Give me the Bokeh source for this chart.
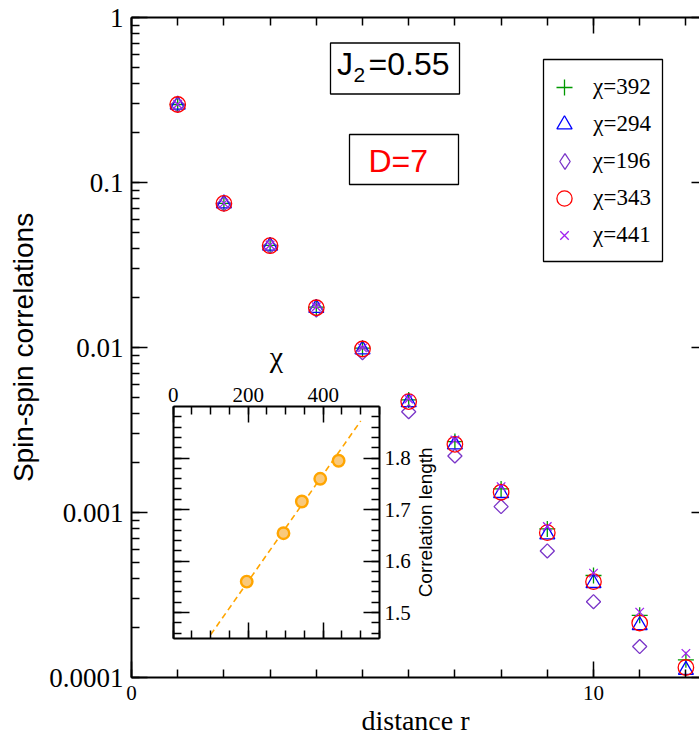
import math
from bokeh.plotting import figure
from bokeh.models import (Range1d, LinearScale, LinearAxis, LogAxis, LogTicker,
                          SingleIntervalTicker, CustomJSTickFormatter, Legend,
                          LegendItem, BoxAnnotation, Label)
from bokeh.embed import file_html
from bokeh.resources import INLINE

# ---------------- data ----------------
distance = [1, 2, 3, 4, 5, 6, 7, 8, 9, 10, 11, 12]
corr_chi392 = [0.297, 0.0748, 0.0416, 0.01755, 0.00990, 0.00481, 0.00269, 0.00139, 0.000795, 0.000415, 0.000238, 0.000128]
corr_chi294 = [0.296, 0.0745, 0.0413, 0.01735, 0.00972, 0.00466, 0.00258, 0.00131, 0.000735, 0.000373, 0.000207, 0.000111]
corr_chi196 = [0.295, 0.0740, 0.0410, 0.01688, 0.00930, 0.00408, 0.00220, 0.001086, 0.000585, 0.000288, 0.000154, 0.000085]
corr_chi343 = [0.297, 0.0747, 0.0414, 0.01742, 0.00979, 0.00470, 0.00259, 0.001327, 0.000755, 0.000381, 0.000214, 0.000115]
corr_chi441 = [0.298, 0.0750, 0.0418, 0.01765, 0.00995, 0.00487, 0.00275, 0.001435, 0.000822, 0.000429, 0.000249, 0.000140]
series_labels = ["χ=392", "χ=294", "χ=196", "χ=343", "χ=441"]

inset_chi = [196, 294, 343, 392, 441]
inset_corr_length = [1.560, 1.654, 1.7155, 1.7596, 1.7946]
fit_chi = [100, 500]
fit_corr_length = [1.457, 1.872]

# ---------------- layout constants ----------------
FIG_H = 738
FL, FT, FW, FH = 131, 17, 568, 660
FB = FT + FH
PX_PER_R = 46.2
X_END = FW / PX_PER_R
BASE_SHIFT = 0.35   # measured correction for Label "alphabetic" anchoring


def sx(px):
    return px - FL


def sy(py):
    return FB - py


p = figure(frame_width=FW, frame_height=FH,
           min_border_left=FL, min_border_top=FT,
           min_border_bottom=FIG_H - FB, min_border_right=0,
           x_range=Range1d(0, X_END), y_range=Range1d(1e-4, 1),
           y_axis_type="log", output_backend="svg", toolbar_location=None,
           outline_line_color=None, background_fill_color="white",
           border_fill_color="white")
p.grid.visible = False

SERIF = "Liberation Serif"
SANS = "Liberation Sans"


def empty_fmt():
    return CustomJSTickFormatter(code="return ''")


def style_ticks(ax, major=16, minor=8):
    ax.major_tick_in = major
    ax.major_tick_out = 0
    ax.minor_tick_in = minor
    ax.minor_tick_out = 0
    ax.axis_line_width = 2
    ax.major_tick_line_width = 1.5
    ax.minor_tick_line_width = 1.5
    ax.axis_line_color = "black"
    ax.major_tick_line_color = "black"
    ax.minor_tick_line_color = "black"


# bottom axis
xa = p.below[0]
xa.ticker = SingleIntervalTicker(interval=10, num_minor_ticks=10)
style_ticks(xa)
xa.major_label_text_font = SERIF
xa.major_label_text_font_size = "21px"
xa.major_label_text_color = "black"
xa.major_label_standoff = 8
xa.axis_label = "distance r"
xa.axis_label_text_font = SERIF
xa.axis_label_text_font_size = "28px"
xa.axis_label_text_font_style = "normal"
xa.axis_label_text_color = "black"
xa.axis_label_standoff = 2

# left axis
ya = p.left[0]
ya.ticker = LogTicker(num_minor_ticks=10)
ya.formatter = CustomJSTickFormatter(code="return String(parseFloat(tick.toPrecision(4)))")
style_ticks(ya)
ya.major_label_text_font = SERIF
ya.major_label_text_font_size = "27px"
ya.major_label_text_color = "black"
ya.major_label_standoff = 8
ya.axis_label = "Spin-spin correlations"
ya.axis_label_text_font = SANS
ya.axis_label_text_font_size = "28px"
ya.axis_label_text_font_style = "normal"
ya.axis_label_text_color = "black"
ya.axis_label_standoff = 7

# top axis (ticks only)
ta = LinearAxis(ticker=SingleIntervalTicker(interval=10, num_minor_ticks=10),
                formatter=empty_fmt(), major_label_text_font_size="1px",
                major_label_standoff=0)
style_ticks(ta)
p.add_layout(ta, "above")

# right axis (only the inner part of the major ticks is inside the picture)
ra = LogAxis(ticker=LogTicker(num_minor_ticks=10), formatter=empty_fmt(),
             major_label_text_font_size="1px", major_label_standoff=0)
style_ticks(ra, major=8, minor=0)
ra.axis_line_color = None
p.add_layout(ra, "right")

# ---------------- main series ----------------
styles = [
    dict(marker="cross", size=16, color="#009900", angle=0.0, legend_marker="cross", legend_size=16),
    dict(marker="triangle", size=15, color="#0000ff", angle=0.0, legend_marker="triangle", legend_size=15),
    dict(marker="square", size=10, color="#7a35c8", angle=math.pi / 4, legend_marker="diamond", legend_size=15.5),
    dict(marker="circle", size=15.5, color="#ff0000", angle=0.0, legend_marker="circle", legend_size=15),
    dict(marker="x", size=12, color="#a020f0", angle=0.0, legend_marker="x", legend_size=12),
]
series = [corr_chi392, corr_chi294, corr_chi196, corr_chi343, corr_chi441]

renderers = []
for vals, st in zip(series, styles):
    r = p.scatter(distance, vals, marker=st["marker"], size=st["size"],
                  angle=st["angle"], line_color=st["color"], fill_color=None,
                  line_width=1.3)
    renderers.append(r)

# legend symbols: hidden copies of the series, shown only in the legend
legend_renderers = []
for vals, st in zip(series, styles):
    lr = p.scatter(distance, vals, marker=st["legend_marker"], size=st["legend_size"],
                   line_color=st["color"], fill_color=None, line_width=1.3,
                   visible=False)
    legend_renderers.append(lr)

LEG_CX = 564
LEG_TEXT_X = 592.7
LEG_Y0 = 86.5
LEG_DY = 37
ITEM_H = 40
for i, (r, lab, st) in enumerate(zip(legend_renderers, series_labels, styles)):
    gw = st["legend_size"] / 0.4
    cy = LEG_Y0 + LEG_DY * i
    leg = Legend(items=[LegendItem(label=lab, renderers=[r], index=0)],
                 location=(sx(LEG_CX - gw / 2), sy(cy + ITEM_H / 2)),
                 glyph_width=int(round(gw)), glyph_height=ITEM_H, label_height=ITEM_H,
                 padding=0, margin=0, spacing=0,
                 label_standoff=int(round(LEG_TEXT_X - LEG_CX - gw / 2)),
                 border_line_color=None, background_fill_alpha=0,
                 inactive_fill_alpha=0,
                 label_text_font=SERIF, label_text_font_size="23px",
                 label_text_color="black")
    p.add_layout(leg)


def screen_box(left, right, top, bottom):
    return BoxAnnotation(left=sx(left), right=sx(right), top=sy(top), bottom=sy(bottom),
                         left_units="screen", right_units="screen",
                         top_units="screen", bottom_units="screen",
                         fill_color=None, fill_alpha=0, line_color="black",
                         line_alpha=1.0, line_width=1.3)


p.add_layout(screen_box(543, 662, 59, 261))      # legend frame
p.add_layout(screen_box(330, 459, 42.5, 93.5))   # J2 box
p.add_layout(screen_box(349, 458, 134, 184))     # D box


def text_label(x, baseline, text, font, fs, color="black", align="left"):
    return Label(x=sx(x), y=sy(baseline - BASE_SHIFT * fs), x_units="screen", y_units="screen",
                 text=text, text_font=font, text_font_size=f"{fs}px",
                 text_align=align, text_baseline="alphabetic", text_color=color)


p.add_layout(text_label(336.5, 74.5, "J", SANS, 32))
p.add_layout(text_label(353, 81.5, "2", SANS, 21))
p.add_layout(text_label(368, 74.5, "=0.55", SANS, 32))
p.add_layout(text_label(368, 171.5, "D=7", SANS, 32, color="#ff0000"))

# ---------------- inset ----------------
IL, IR, IT, IB = 172.7, 379.0, 406.0, 637.75
CHI_LO, CHI_HI = 0, 550
XI_LO, XI_HI = 1.45, 1.90
kx = (IR - IL) / (CHI_HI - CHI_LO)
ky = (IB - IT) / (XI_HI - XI_LO)
ix_start = CHI_LO - (IL - FL) / kx
iy_start = XI_LO - (FB - IB) / ky
p.extra_x_ranges = {"ix": Range1d(ix_start, ix_start + FW / kx)}
p.extra_y_ranges = {"iy": Range1d(iy_start, iy_start + FH / ky)}
p.extra_x_scales = {"ix": LinearScale()}
p.extra_y_scales = {"iy": LinearScale()}


def inset_axis(side, loc, bounds, ticker, labels):
    ax = LinearAxis(x_range_name="ix", y_range_name="iy", fixed_location=loc,
                    bounds=bounds, ticker=ticker)
    style_ticks(ax)
    if labels:
        ax.major_label_text_font = SERIF
        ax.major_label_text_font_size = "21px"
        ax.major_label_text_color = "black"
        ax.major_label_standoff = 5
    else:
        ax.formatter = empty_fmt()
        ax.major_label_text_font_size = "1px"
    p.add_layout(ax, side)


inset_axis("above", XI_HI, (CHI_LO, CHI_HI), SingleIntervalTicker(interval=200, num_minor_ticks=4), True)
inset_axis("below", XI_LO, (CHI_LO, CHI_HI), SingleIntervalTicker(interval=200, num_minor_ticks=4), False)
inset_axis("left", CHI_LO, (XI_LO, XI_HI), SingleIntervalTicker(interval=0.1, num_minor_ticks=5), False)
inset_axis("right", CHI_HI, (XI_LO, XI_HI), SingleIntervalTicker(interval=0.1, num_minor_ticks=5), True)

p.line(fit_chi, fit_corr_length, x_range_name="ix", y_range_name="iy",
       line_color="#ffa500", line_width=1.6, line_dash="6 4")
p.scatter(inset_chi, inset_corr_length, x_range_name="ix", y_range_name="iy",
          marker="circle", size=11.5, line_color="#ffa500", line_width=2.4,
          fill_color="#f9c97c")

p.add_layout(text_label((IL + IR) / 2, 366, "χ", SERIF, 30, align="center"))
CL_FS = 19
p.add_layout(Label(x=sx(431.5 - BASE_SHIFT * CL_FS), y=sy((IT + IB) / 2),
                   x_units="screen", y_units="screen",
                   text="Correlation length", text_font=SANS, text_font_size=f"{CL_FS}px",
                   angle=math.pi / 2, text_align="center", text_baseline="alphabetic",
                   text_color="black"))

open("out.html", "w").write(file_html(p, INLINE))
